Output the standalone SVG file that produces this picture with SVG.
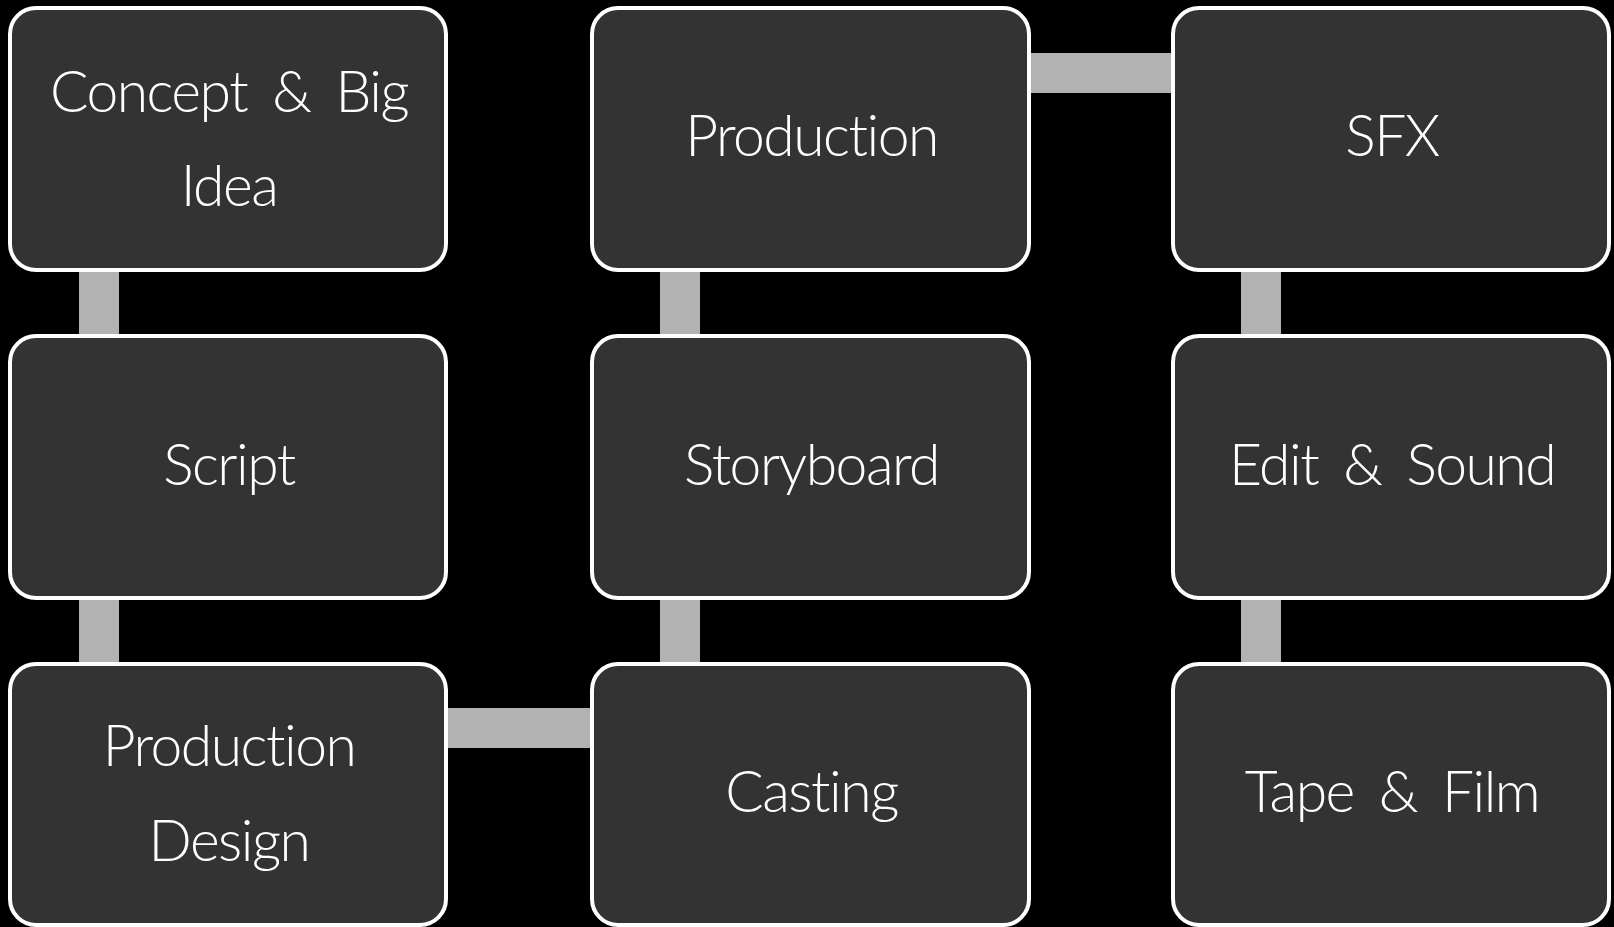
<svg xmlns="http://www.w3.org/2000/svg" width="1614" height="927" viewBox="0 0 1614 927">
<style>
.box{fill:#333333;stroke:#ffffff;stroke-width:4}
.conn{fill:#b2b2b2}
.lbl{fill:#ffffff;font-family:"Lato","Noto Sans","Liberation Sans",sans-serif;font-weight:300;font-size:57px;letter-spacing:-1.5px;word-spacing:11px;font-variant-ligatures:none;text-anchor:middle}
</style>
<rect width="1614" height="927" fill="#000000"/>
<g id="connectors">
<rect class="conn" x="79" y="268" width="40" height="70"/>
<rect class="conn" x="79" y="596" width="40" height="70"/>
<rect class="conn" x="444" y="708" width="150" height="40"/>
<rect class="conn" x="660" y="596" width="40" height="70"/>
<rect class="conn" x="660" y="268" width="40" height="70"/>
<rect class="conn" x="1027" y="53" width="148" height="40"/>
<rect class="conn" x="1241" y="268" width="40" height="70"/>
<rect class="conn" x="1241" y="596" width="40" height="70"/>
</g>
<g id="concept">
<rect class="box" x="10" y="8" width="436" height="262" rx="26"/>
<text class="lbl" x="229" y="112">Concept &amp; Big</text>
<text class="lbl" x="229" y="206">Idea</text>
</g>
<g id="script">
<rect class="box" x="10" y="336" width="436" height="262" rx="26"/>
<text class="lbl" x="229" y="485">Script</text>
</g>
<g id="production-design">
<rect class="box" x="10" y="664" width="436" height="261" rx="26"/>
<text class="lbl" x="229" y="766">Production</text>
<text class="lbl" x="229" y="861">Design</text>
</g>
<g id="production">
<rect class="box" x="592" y="8" width="437" height="262" rx="26"/>
<text class="lbl" x="811.5" y="156">Production</text>
</g>
<g id="storyboard">
<rect class="box" x="592" y="336" width="437" height="262" rx="26"/>
<text class="lbl" x="811.5" y="485">Storyboard</text>
</g>
<g id="casting">
<rect class="box" x="592" y="664" width="437" height="261" rx="26"/>
<text class="lbl" x="811.5" y="812">Casting</text>
</g>
<g id="sfx">
<rect class="box" x="1173" y="8" width="436" height="262" rx="26"/>
<text class="lbl" x="1392" y="156">SFX</text>
</g>
<g id="edit-sound">
<rect class="box" x="1173" y="336" width="436" height="262" rx="26"/>
<text class="lbl" x="1392" y="485">Edit &amp; Sound</text>
</g>
<g id="tape-film">
<rect class="box" x="1173" y="664" width="436" height="261" rx="26"/>
<text class="lbl" x="1392" y="812">Tape &amp; Film</text>
</g>
</svg>
